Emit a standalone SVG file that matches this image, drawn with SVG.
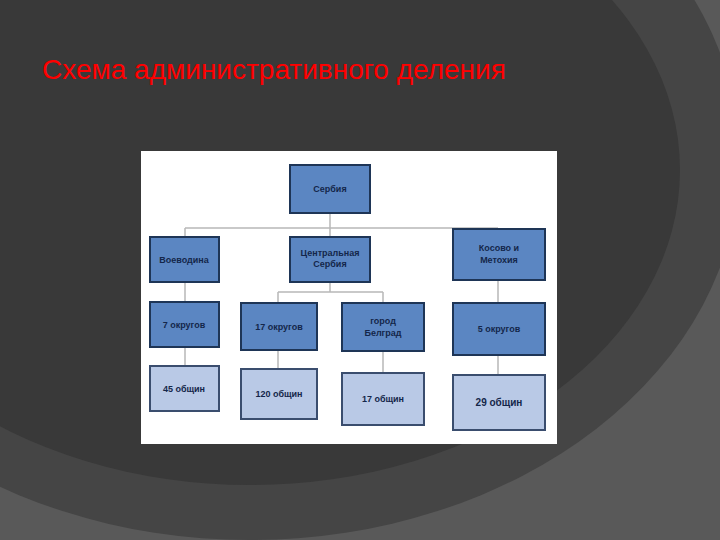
<svg xmlns="http://www.w3.org/2000/svg" width="720" height="540" viewBox="0 0 720 540">
<style>
.d{fill:#5b86c2;stroke:#1e3556;stroke-width:2}
.l{fill:#b9c9e6;stroke:#3a4d6e;stroke-width:2}
.t{font-family:"Liberation Sans",Arial,sans-serif;font-size:9px;font-weight:bold;fill:#14264a;text-anchor:middle}
.c{stroke:#b8b8b8;stroke-width:1.5;fill:none}
</style>
<rect width="720" height="540" fill="#595959"/>
<ellipse cx="250" cy="160" rx="490" ry="380" fill="#454545"/>
<ellipse cx="250" cy="170" rx="430" ry="315" fill="#393939"/>
<text x="42" y="79" font-family="Liberation Sans,Arial,sans-serif" font-size="28" fill="#ff0000">Схема административного деления</text>
<rect x="141" y="151" width="416" height="293" fill="#ffffff"/>
<g id="connectors" class="c">
<path d="M330 213V228M185 228H498M185 228V238M498 228V229M330 228V237"/>
<path d="M185 282V302M185 347V366M330 282V292M278 292H383M278 292V303M383 292V303M278 350V369M383 351V373M498 280V303M498 355V375"/>
</g>
<g id="n1"><rect class="d" x="290" y="165" width="80" height="48"/><text class="t" x="330" y="192">Сербия</text></g>
<g id="n2"><rect class="d" x="150" y="237" width="69" height="45"/><text class="t" x="184" y="263">Воеводина</text></g>
<g id="n3"><rect class="d" x="290" y="237" width="80" height="45"/><text class="t" x="330" y="256">Центральная</text><text class="t" x="330" y="267">Сербия</text></g>
<g id="n4"><rect class="d" x="453" y="229" width="92" height="51"/><text class="t" x="499" y="251">Косово и</text><text class="t" x="499" y="263">Метохия</text></g>
<g id="n5"><rect class="d" x="150" y="302" width="69" height="45"/><text class="t" x="184" y="328">7 округов</text></g>
<g id="n6"><rect class="d" x="241" y="303" width="76" height="47"/><text class="t" x="279" y="330">17 округов</text></g>
<g id="n7"><rect class="d" x="342" y="303" width="82" height="48"/><text class="t" x="383" y="324">город</text><text class="t" x="383" y="336">Белград</text></g>
<g id="n8"><rect class="d" x="453" y="303" width="92" height="52"/><text class="t" x="499" y="332">5 округов</text></g>
<g id="n9"><rect class="l" x="150" y="366" width="69" height="45"/><text class="t" x="184" y="392">45 общин</text></g>
<g id="n10"><rect class="l" x="241" y="369" width="76" height="50"/><text class="t" x="279" y="397">120 общин</text></g>
<g id="n11"><rect class="l" x="342" y="373" width="82" height="52"/><text class="t" x="383" y="402">17 общин</text></g>
<g id="n12"><rect class="l" x="453" y="375" width="92" height="55"/><text class="t" x="499" y="406" style="font-size:10px">29 общин</text></g>
</svg>
